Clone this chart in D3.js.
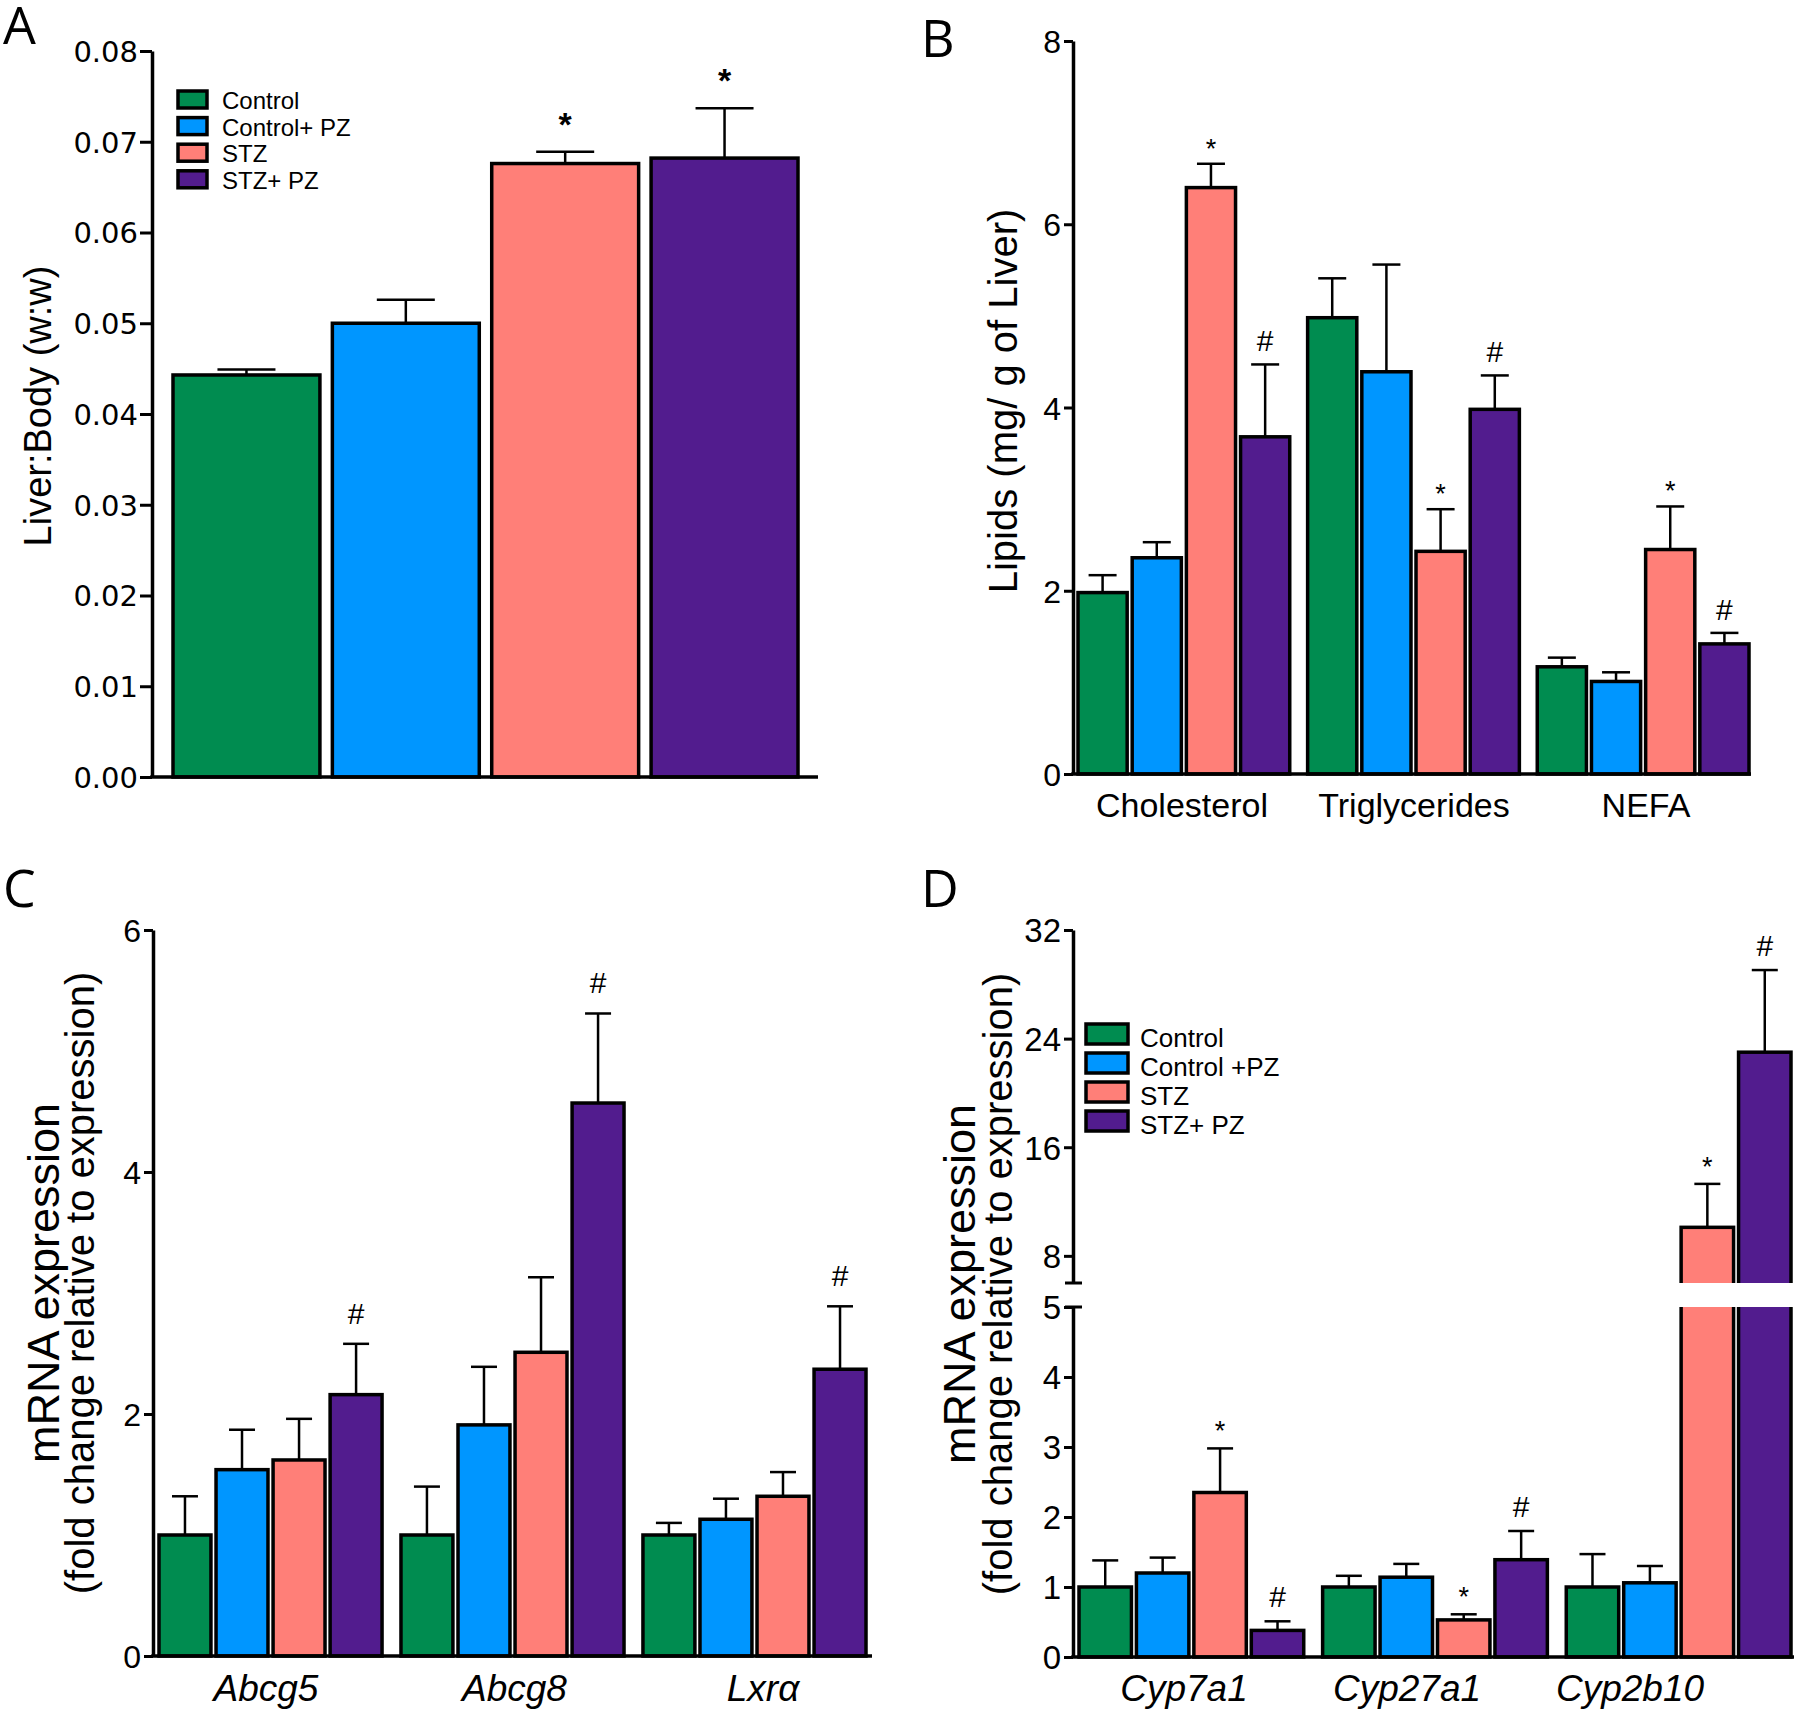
<!DOCTYPE html>
<html><head><meta charset="utf-8">
<script src="https://cdn.jsdelivr.net/npm/d3@7"></script>
<style>body{margin:0;background:#fff} svg{display:block}</style>
</head><body>
<svg id="chart" width="1800" height="1711"></svg>
<script>
// ---------- shared ----------
const seriesNames = ["Control", "Control+ PZ", "STZ", "STZ+ PZ"];
const legendNamesD = ["Control", "Control +PZ", "STZ", "STZ+ PZ"];
const seriesColors = ["#008C50", "#0096FF", "#FF7F78", "#521C8E"];

// ---------- Panel A ----------
const aValues = [0.0443, 0.0500, 0.0676, 0.0682];
const aSem    = [0.0006, 0.0026, 0.0013, 0.0055];
const aMarks  = ["", "", "*", "*"];
const aTicks  = [0, 0.01, 0.02, 0.03, 0.04, 0.05, 0.06, 0.07, 0.08];

// ---------- Panel B ----------
const bCategories = ["Cholesterol", "Triglycerides", "NEFA"];
const bControl      = [1.98, 4.98, 1.17];
const bControlSem   = [0.19, 0.43, 0.10];
const bControlPZ    = [2.36, 4.39, 1.01];
const bControlPZSem = [0.17, 1.17, 0.10];
const bSTZ          = [6.40, 2.43, 2.45];
const bSTZSem       = [0.26, 0.46, 0.47];
const bSTZPZ        = [3.68, 3.98, 1.42];
const bSTZPZSem     = [0.79, 0.37, 0.12];
const bSTZMarks     = ["*", "*", "*"];
const bSTZPZMarks   = ["#", "#", "#"];
const bTicks = [0, 2, 4, 6, 8];

// ---------- Panel C ----------
const cCategories = ["Abcg5", "Abcg8", "Lxrα"];
const cControl      = [1.00, 1.00, 1.00];
const cControlSem   = [0.32, 0.40, 0.10];
const cControlPZ    = [1.54, 1.91, 1.13];
const cControlPZSem = [0.33, 0.48, 0.17];
const cSTZ          = [1.62, 2.51, 1.32];
const cSTZSem       = [0.34, 0.62, 0.20];
const cSTZPZ        = [2.16, 4.57, 2.37];
const cSTZPZSem     = [0.42, 0.74, 0.52];
const cSTZPZMarks   = ["#", "#", "#"];
const cTicks = [0, 2, 4, 6];

// ---------- Panel D ----------
const dCategories = ["Cyp7a1", "Cyp27a1", "Cyp2b10"];
const dControl      = [1.00, 1.00, 1.00];
const dControlSem   = [0.38, 0.16, 0.47];
const dControlPZ    = [1.20, 1.14, 1.06];
const dControlPZSem = [0.22, 0.19, 0.24];
const dSTZ          = [2.35, 0.53, 10.1];
const dSTZSem       = [0.63, 0.08, 3.2];
const dSTZPZ        = [0.38, 1.39, 23.0];
const dSTZPZSem     = [0.13, 0.41, 6.05];
const dSTZMarks     = ["*", "*", "*"];
const dSTZPZMarks   = ["#", "#", "#"];
const dTicksLow  = [0, 1, 2, 3, 4, 5];
const dTicksHigh = [8, 16, 24, 32];

// ---------- drawing ----------
const svg = d3.select("#chart");
const FONT = "'Liberation Sans', Arial, Helvetica, sans-serif";
const AXW = 3.5;

function panelLetter(txt, x, y) {
  svg.append("text").attr("x", x).attr("y", y).text(txt)
    .attr("font-family", "'Open Sans', sans-serif").attr("font-size", 52).attr("fill", "#000");
}

function yAxis(scale, ticks, x, opt) {
  const ax = d3.axisLeft(scale).tickValues(ticks).tickSize(opt.tickSize).tickPadding(opt.pad).tickSizeOuter(0)
    .tickFormat(opt.fmt);
  const g = svg.append("g").attr("transform", `translate(${x},0)`).call(ax);
  g.select(".domain").attr("stroke", "#000").attr("stroke-width", AXW);
  g.selectAll(".tick line").attr("stroke", "#000").attr("stroke-width", 3);
  g.selectAll(".tick text").attr("font-family", opt.font).attr("font-size", opt.fontSize).attr("fill", "#000")
    .attr("dy", "0.36em");
  return g;
}

function drawBars(o) {
  const g = svg.append("g");
  const x0 = d3.scaleBand().domain(o.categories).range(o.range).paddingInner(o.groupPad).paddingOuter(0);
  const x1 = d3.scaleBand().domain(d3.range(o.series.length)).range([0, x0.bandwidth()])
    .paddingInner(o.barPad).paddingOuter(0);
  const y = o.y;
  o.categories.forEach((c, ci) => {
    o.series.forEach((s, si) => {
      const v = s.values[ci], e = s.sem[ci];
      const bx = x0(c) + x1(si), bw = x1.bandwidth(), cx = bx + bw / 2;
      const top = y(v + e);
      g.append("line").attr("x1", cx).attr("x2", cx).attr("y1", y(v)).attr("y2", top)
        .attr("stroke", "#000").attr("stroke-width", 2.5);
      g.append("line").attr("x1", cx - o.cap).attr("x2", cx + o.cap).attr("y1", top).attr("y2", top)
        .attr("stroke", "#000").attr("stroke-width", 2.5);
      g.append("rect").attr("x", bx).attr("width", bw).attr("y", y(v)).attr("height", y(0) - y(v))
        .attr("fill", seriesColors[si]).attr("stroke", "#000").attr("stroke-width", AXW);
      const m = s.marks ? s.marks[ci] : "";
      if (m) {
        g.append("text").attr("x", cx).attr("y", top - o.markGap[m]).attr("text-anchor", "middle")
          .attr("font-family", FONT).attr("font-size", o.markSize[m]).attr("font-weight", o.markWeight || "normal")
          .text(m);
      }
    });
  });
  svg.append("line").attr("x1", o.axisX - AXW / 2).attr("x2", o.axisEnd).attr("y1", y(0)).attr("y2", y(0))
    .attr("stroke", "#000").attr("stroke-width", AXW);
  if (o.labelRange) {
    const xl = d3.scalePoint().domain(o.categories).range(o.labelRange);
    o.categories.forEach(c => {
      svg.append("text").attr("x", xl(c)).attr("y", o.catY).attr("text-anchor", "middle")
        .attr("font-family", FONT).attr("font-size", o.catSize).attr("font-style", o.italic ? "italic" : "normal")
        .text(c);
    });
  }
  return { x0, x1, g };
}

function yLabel(lines, yc) {
  lines.forEach(l => {
    svg.append("text").attr("transform", `translate(${l.x},${yc}) rotate(-90)`).attr("text-anchor", "middle")
      .attr("font-family", FONT).attr("font-size", l.size).text(l.text);
  });
}

function legend(names, x, y0, step, bw, bh, tx, size, dy) {
  names.forEach((n, i) => {
    svg.append("rect").attr("x", x).attr("y", y0 + i * step).attr("width", bw).attr("height", bh)
      .attr("fill", seriesColors[i]).attr("stroke", "#000").attr("stroke-width", 3.5);
    svg.append("text").attr("x", tx).attr("y", y0 + i * step + bh + dy).attr("font-family", FONT)
      .attr("font-size", size).text(n);
  });
}

// ===== Panel A =====
const yA = d3.scaleLinear().domain([0, 0.08]).range([777, 51]);
yAxis(yA, aTicks, 152, { tickSize: 12, pad: 2, fmt: d3.format(".2f"), font: "'DejaVu Sans', Verdana, sans-serif", fontSize: 29 });
drawBars({
  categories: ["all"], range: [173, 798], groupPad: 0, barPad: 12.5 / 160,
  series: aValues.map((v, i) => ({ values: [v], sem: [aSem[i]], marks: [aMarks[i]] })),
  y: yA, cap: 29, markGap: { "*": 16 }, markSize: { "*": 34 }, markWeight: "bold", axisX: 152, axisEnd: 818
});
legend(seriesNames, 178, 91, 26.6, 29, 17, 222, 24, 1);
yLabel([{ text: "Liver:Body (w:w)", x: 51, size: 38 }], 406);
panelLetter("A", 3, 44);

// ===== Panel B =====
const yB = d3.scaleLinear().domain([0, 8]).range([774, 41]);
yAxis(yB, bTicks, 1073, { tickSize: 9, pad: 3, fmt: d3.format("d"), font: FONT, fontSize: 32 });
drawBars({
  categories: bCategories, range: [1078, 1749], groupPad: 18 / 231, barPad: 5 / 54,
  series: [
    { values: bControl, sem: bControlSem },
    { values: bControlPZ, sem: bControlPZSem },
    { values: bSTZ, sem: bSTZSem, marks: bSTZMarks },
    { values: bSTZPZ, sem: bSTZPZSem, marks: bSTZPZMarks }
  ],
  y: yB, cap: 14, markGap: { "*": 6, "#": 13 }, markSize: { "*": 27, "#": 30 }, axisX: 1073, axisEnd: 1751,
  labelRange: [1182, 1646], catY: 817, catSize: 34
});
yLabel([{ text: "Lipids (mg/ g of Liver)", x: 1017, size: 40 }], 401);
panelLetter("B", 921, 57);

// ===== Panel C =====
const yC = d3.scaleLinear().domain([0, 6]).range([1656, 930]);
yAxis(yC, cTicks, 153, { tickSize: 9, pad: 3, fmt: d3.format("d"), font: FONT, fontSize: 32 });
drawBars({
  categories: cCategories, range: [159, 866], groupPad: 19 / 243, barPad: 5 / 56,
  series: [
    { values: cControl, sem: cControlSem },
    { values: cControlPZ, sem: cControlPZSem },
    { values: cSTZ, sem: cSTZSem },
    { values: cSTZPZ, sem: cSTZPZSem, marks: cSTZPZMarks }
  ],
  y: yC, cap: 13, markGap: { "#": 20 }, markSize: { "#": 30 }, axisX: 153, axisEnd: 872,
  labelRange: [266, 763], catY: 1701, catSize: 37, italic: true
});
yLabel([
  { text: "mRNA expression", x: 59, size: 45 },
  { text: "(fold change relative to expression)", x: 94, size: 40 }
], 1283);
panelLetter("C", 3, 907);

// ===== Panel D =====
const yD = d3.scaleLinear().domain([0, 5, 6, 32]).range([1657, 1307, 1283, 930]);
const yDlow = d3.scaleLinear().domain([0, 5]).range([1657, 1307]);
const yDhigh = d3.scaleLinear().domain([6, 32]).range([1283, 930]);
drawBars({
  categories: dCategories, range: [1079, 1791], groupPad: 19 / 245, barPad: 5 / 57.5,
  series: [
    { values: dControl, sem: dControlSem },
    { values: dControlPZ, sem: dControlPZSem },
    { values: dSTZ, sem: dSTZSem, marks: dSTZMarks },
    { values: dSTZPZ, sem: dSTZPZSem, marks: dSTZPZMarks }
  ],
  y: yD, cap: 13, markGap: { "*": 8, "#": 14 }, markSize: { "*": 27, "#": 30 }, axisX: 1073, axisEnd: 1794,
  labelRange: [1184, 1630], catY: 1701, catSize: 37, italic: true
});
// axis break: white band across the bars
svg.append("rect").attr("x", 1076).attr("y", yD(6)).attr("width", 1800 - 1076).attr("height", yD(5) - yD(6)).attr("fill", "#fff");
yAxis(yDlow, dTicksLow, 1073, { tickSize: 9, pad: 3, fmt: d3.format("d"), font: FONT, fontSize: 33 });
yAxis(yDhigh, dTicksHigh, 1073, { tickSize: 9, pad: 3, fmt: d3.format("d"), font: FONT, fontSize: 33 });
[yD(6), yD(5)].forEach(yy => {
  svg.append("line").attr("x1", 1065).attr("x2", 1082).attr("y1", yy).attr("y2", yy).attr("stroke", "#000").attr("stroke-width", 3);
});
legend(legendNamesD, 1086, 1024, 29, 42, 20, 1140, 26, 3);
yLabel([
  { text: "mRNA expression", x: 975, size: 45 },
  { text: "(fold change relative to expression)", x: 1012, size: 40 }
], 1284);
panelLetter("D", 921, 907);
</script>
</body></html>
